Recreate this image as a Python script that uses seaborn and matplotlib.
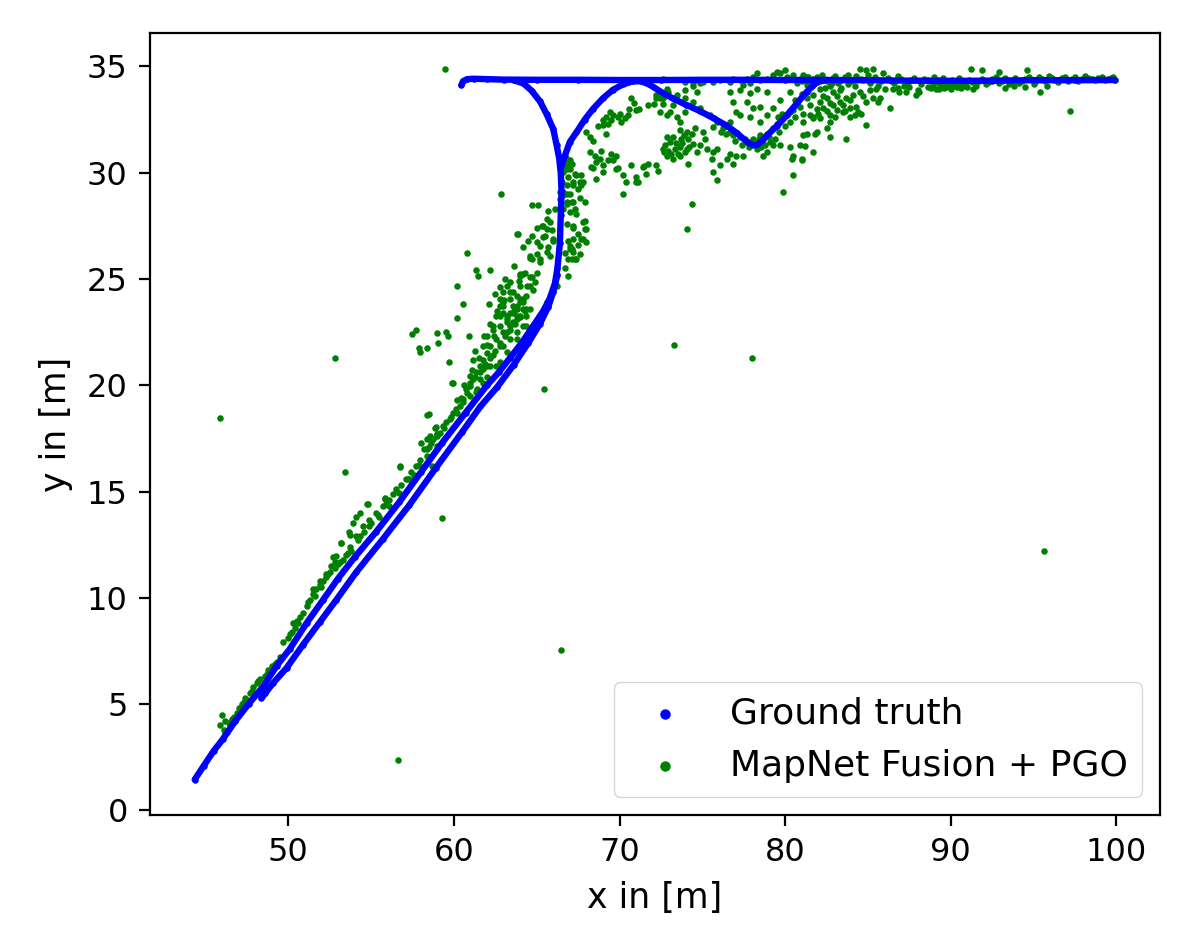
import matplotlib
matplotlib.use("Agg")
import matplotlib.pyplot as plt
import seaborn as sns
import pandas as pd

# ground truth trajectory (x, y in metres)
gt_diag_a = [[44.35, 1.45], [44.9, 2.1], [45.5, 2.8], [46.05, 3.35], [46.8, 4.2], [47.6, 5.0],
             [48.46, 5.8], [49.3, 6.8], [50.1, 7.6], [51.1, 8.8], [52.1, 9.9], [53.0, 10.9],
             [54.0, 11.9], [55.3, 13.1], [56.7, 14.5], [58.0, 15.9], [59.3, 17.3], [60.7, 18.7],
             [62.0, 20.0], [62.7, 20.6], [63.4, 21.3], [64.1, 22.0], [64.8, 22.8], [65.4, 23.5],
             [65.8, 24.1], [66.1, 24.8], [66.25, 25.5], [66.4, 26.7], [66.45, 28.0], [66.5, 29.1],
             [66.45, 30.0], [66.35, 30.7], [66.2, 31.3], [66.0, 32.05], [65.6, 32.75], [65.2, 33.35],
             [64.7, 33.85], [64.2, 34.2], [63.6, 34.35]]
gt_diag_b = [[48.38, 5.28], [48.6, 5.5], [49.1, 6.0], [49.9, 6.7], [50.9, 7.8], [51.9, 8.85],
             [52.9, 9.9], [54.1, 11.2], [55.7, 12.75], [57.3, 14.35], [58.9, 16.1], [60.5, 17.8],
             [61.6, 19.0], [62.6, 19.9], [63.6, 20.95], [64.5, 22.0], [65.2, 22.9], [65.7, 23.7],
             [66.0, 24.4], [66.25, 25.2]]
gt_top = [[60.45, 34.12], [60.55, 34.3], [60.8, 34.4], [61.2, 34.42], [62.0, 34.4], [63.0, 34.38],
          [65.0, 34.37], [67.5, 34.37], [70.0, 34.36], [72.5, 34.36], [75.0, 34.37], [77.5, 34.37],
          [80.0, 34.36], [82.5, 34.36], [85.0, 34.35], [87.5, 34.33], [90.0, 34.32], [92.5, 34.33],
          [95.0, 34.35], [97.5, 34.35], [99.9, 34.36]]
gt_loop = [[66.45, 30.2], [66.7, 30.8], [67.0, 31.45], [67.4, 31.9], [67.9, 32.5], [68.4, 33.0],
           [69.0, 33.5], [69.6, 33.9], [70.2, 34.15], [70.8, 34.3], [71.3, 34.3], [71.8, 34.15],
           [72.5, 33.8], [73.2, 33.5], [74.0, 33.2], [74.85, 32.9], [75.7, 32.55], [76.5, 32.2],
           [77.1, 31.85], [77.7, 31.45], [78.0, 31.3], [78.3, 31.3], [78.6, 31.5], [78.9, 31.75],
           [79.5, 32.2], [80.1, 32.7], [80.7, 33.25], [81.3, 33.8], [81.9, 34.25], [82.5, 34.37]]

# MapNet Fusion + PGO estimates
pred_diag = [[45.9, 4.0], [46.1, 3.8], [46.2, 4.2], [46.3, 3.7], [46.5, 3.9], [46.0, 4.5], [46.4, 4.1],
             [46.2, 3.6], [46.6, 4.3], [46.7, 4.4], [47.0, 4.8], [47.2, 5.0], [47.4, 5.3], [47.7, 5.5],
             [47.9, 5.8], [48.1, 6.0], [48.3, 6.2], [48.6, 6.3], [48.8, 6.6], [49.0, 6.8], [49.3, 7.0],
             [49.5, 7.2], [49.7, 7.9], [48.9, 6.5], [47.5, 5.2], [50.0, 8.1], [50.2, 8.4], [50.4, 8.6],
             [50.5, 8.9], [50.7, 9.1], [50.9, 9.3], [50.3, 8.8], [51.1, 9.6], [51.3, 9.9], [51.5, 10.2],
             [51.5, 10.4], [51.7, 10.4], [51.9, 10.6], [51.9, 10.8], [52.1, 10.8], [52.3, 11.0],
             [52.3, 11.1], [52.5, 11.2], [52.6, 11.5], [52.7, 11.9], [52.8, 11.4], [52.8, 11.7],
             [53.0, 11.6], [52.9, 11.95], [53.2, 12.6], [53.3, 11.8], [53.5, 12.0], [53.7, 12.4],
             [53.66, 13.1], [53.7, 12.97], [53.8, 12.2], [53.9, 13.5], [54.1, 12.9], [54.08, 13.8],
             [54.3, 12.9], [54.3, 14.0], [54.5, 13.36], [54.78, 14.43], [54.9, 13.4], [54.9, 13.68],
             [55.3, 14.0], [55.5, 13.8], [55.7, 14.3], [55.83, 14.65], [56.1, 14.3], [56.1, 14.6],
             [56.5, 15.1], [56.7, 14.95], [56.73, 16.15], [57.1, 15.57], [57.2, 15.6], [57.3, 15.57],
             [57.7, 16.2], [57.9, 16.27], [57.94, 16.5], [58.04, 17.3], [58.35, 16.67], [58.35, 16.98],
             [58.4, 17.45], [58.5, 17.1], [58.54, 17.6], [58.65, 16.2], [58.74, 17.45], [58.95, 17.14],
             [58.99, 17.69], [58.9, 18.05], [58.5, 18.63], [59.15, 17.77], [59.35, 18.1], [59.55, 18.25],
             [59.75, 18.4], [59.95, 18.7], [59.9, 20.1], [60.16, 18.7], [60.35, 19.0], [60.55, 19.2],
             [60.55, 19.34], [60.76, 19.65], [60.96, 19.5], [60.96, 19.97], [60.96, 20.44],
             [61.16, 20.28], [61.15, 21.2], [61.36, 19.67], [61.36, 20.6], [61.4, 19.8], [61.56, 20.28],
             [61.56, 20.9], [61.75, 20.1], [61.76, 20.75], [61.76, 21.2], [61.76, 21.85], [61.97, 20.4],
             [61.97, 20.9], [61.97, 21.5], [61.97, 22.3], [62.17, 20.9], [62.17, 21.85], [62.35, 22.6],
             [62.37, 21.4], [62.37, 22.8], [62.57, 20.9], [62.57, 22.17], [62.57, 23.27],
             [62.77, 21.07], [62.77, 21.85], [62.77, 23.27], [62.77, 23.74], [62.97, 21.85],
             [62.97, 22.5], [62.97, 23.4], [63.18, 21.55], [63.18, 22.5], [63.18, 22.96], [63.38, 22.17],
             [63.38, 22.8], [63.4, 23.4], [63.56, 22.96], [63.78, 22.17], [63.78, 22.5], [63.78, 23.1],
             [63.78, 23.58], [63.98, 23.27], [64.18, 22.8], [64.18, 23.58], [64.38, 22.8],
             [64.38, 23.27], [64.58, 22.64],
             [46.9, 4.6], [47.3, 5.1], [47.8, 5.6], [48.2, 6.1], [48.7, 6.4], [49.2, 6.9], [50.1, 8.3],
             [50.6, 8.8], [51.2, 9.8], [51.6, 10.1], [52.0, 10.5], [52.4, 11.1], [53.1, 11.7], [53.6, 12.1],
             [54.2, 12.7], [54.6, 13.1], [55.0, 13.5], [55.4, 13.9], [55.9, 14.4], [56.3, 14.9],
             [56.8, 15.3], [57.4, 15.9], [57.6, 15.8], [58.2, 17.0], [58.6, 17.3], [59.0, 17.6],
             [59.4, 18.0], [59.8, 18.5], [60.1, 18.9], [60.4, 19.4], [60.7, 19.8], [61.0, 20.1],
             [61.3, 20.4], [61.6, 20.6], [61.9, 21.0], [62.2, 21.3], [62.5, 21.6], [62.8, 22.0],
             [63.1, 22.3], [63.4, 22.6], [63.7, 22.9], [64.0, 23.2], [64.3, 23.5], [60.2, 19.3],
             [60.6, 20.0], [61.1, 20.7], [61.5, 21.3], [62.0, 21.9], [62.4, 22.3], [62.8, 22.8],
             [63.2, 23.1], [63.6, 23.5], [64.0, 23.9], [61.3, 21.6], [61.8, 22.3], [62.2, 22.9],
             [62.6, 23.5], [63.0, 24.0], [63.4, 24.4], [63.9, 24.9], [64.3, 25.3]]
pred_bend = [[62.77, 24.06], [62.77, 24.6], [62.97, 23.74], [62.97, 23.9], [62.97, 24.37], [63.18, 23.27],
             [63.18, 24.68], [63.38, 24.06], [63.38, 24.84], [63.56, 24.37], [63.58, 23.4], [63.58, 23.74],
             [63.78, 23.27], [63.78, 23.74], [63.78, 24.21], [63.98, 24.06], [63.98, 24.69],
             [63.98, 25.24], [64.0, 25.16], [64.18, 23.9], [64.18, 24.06], [64.2, 25.24], [64.38, 23.58],
             [64.38, 24.2], [64.4, 24.68], [64.58, 23.58], [64.58, 24.69], [64.58, 25.07], [64.58, 26.1],
             [64.6, 26.0], [64.7, 25.07], [64.7, 25.94], [64.78, 24.5], [64.9, 24.84], [64.99, 25.3],
             [64.99, 26.18], [65.19, 25.94], [65.2, 25.8], [65.19, 26.57], [65.6, 26.26], [65.59, 23.9],
             [65.79, 24.2], [66.2, 24.69], [65.69, 26.5], [65.79, 26.1], [64.7, 27.04], [64.99, 26.73],
             [65.4, 26.97], [66.0, 26.9], [66.0, 26.8], [65.49, 27.04], [64.99, 27.4], [65.29, 27.5],
             [65.39, 27.5], [65.6, 27.83], [65.6, 27.36], [65.8, 27.7], [65.9, 27.28], [63.8, 27.12],
             [62.1, 23.8], [62.5, 24.3], [63.1, 25.0], [63.6, 25.6], [64.2, 26.5], [64.5, 26.8]]
pred_vertical = [[66.7, 25.5], [66.9, 25.16], [67.1, 25.94], [67.4, 25.94], [66.88, 25.94], [67.31, 25.94],
                 [67.0, 26.4], [67.18, 26.26], [67.1, 26.4], [67.0, 26.57], [67.6, 26.18], [68.0, 26.73],
                 [67.7, 26.9], [67.2, 26.9], [67.8, 26.9], [67.2, 27.4], [66.8, 27.6], [67.2, 27.5],
                 [67.8, 27.67], [67.9, 27.36], [67.9, 27.75], [68.0, 27.36], [67.4, 28.07], [67.0, 28.14],
                 [66.6, 28.3], [66.8, 28.54], [67.2, 28.6], [66.8, 28.6], [67.9, 28.6], [67.1, 28.6],
                 [66.4, 28.77], [67.0, 29.0], [66.8, 29.0], [66.6, 28.93], [66.4, 29.1], [66.6, 29.1],
                 [67.5, 29.25], [67.2, 29.4], [66.8, 29.4], [67.6, 29.55], [67.7, 29.4], [66.5, 29.55],
                 [67.8, 29.55], [67.2, 29.55], [67.4, 29.87], [67.3, 29.95], [67.7, 29.87], [68.6, 29.7],
                 [66.6, 30.03], [67.0, 30.19], [66.8, 30.19], [68.4, 30.2], [66.6, 30.34], [66.8, 30.35],
                 [66.6, 30.58], [67.0, 30.58], [66.8, 30.66], [66.9, 26.8], [67.5, 27.1], [67.3, 28.3],
                 [67.6, 28.8], [66.9, 29.8], [67.1, 30.4], [66.7, 26.2], [67.5, 26.6]]
pred_loop = [[68.0, 31.92], [68.2, 31.7], [68.4, 31.5], [69.2, 31.84], [68.2, 30.97], [68.5, 30.8],
             [68.8, 30.66], [68.6, 30.5], [68.3, 30.27], [69.0, 30.34], [69.6, 30.58], [69.8, 30.19],
             [70.2, 29.87], [70.4, 29.55], [71.0, 29.55], [70.2, 29.0], [71.1, 29.55], [69.0, 30.05],
             [69.9, 30.2], [70.7, 30.35], [71.0, 29.8], [69.8, 30.8], [71.5, 30.3], [69.03, 32.25],
             [69.0, 32.46], [69.2, 32.62], [69.6, 32.7], [70.0, 32.78], [69.4, 32.86], [70.3, 32.55],
             [70.5, 32.7], [69.46, 32.5], [69.9, 32.6], [70.7, 33.5], [71.0, 32.94], [71.2, 33.0],
             [71.7, 33.18], [72.1, 33.25], [71.4, 30.27], [71.7, 30.42], [72.2, 30.34], [72.3, 30.1],
             [71.6, 29.95], [72.74, 31.3], [73.04, 31.44], [73.34, 31.13], [73.64, 31.2], [73.94, 30.97],
             [72.84, 30.8], [73.24, 30.66], [73.64, 30.8], [74.05, 31.13], [74.14, 31.6], [73.74, 31.6],
             [74.35, 31.84], [74.44, 31.37], [72.84, 31.68], [72.64, 31.13], [74.14, 30.42],
             [72.64, 33.5], [72.43, 33.5], [72.94, 33.8], [73.24, 33.18], [73.04, 32.86], [73.44, 32.62],
             [73.64, 32.38], [73.94, 32.86], [72.84, 33.96], [73.44, 33.65], [73.94, 33.88],
             [74.44, 34.1], [74.85, 34.2], [74.65, 33.8], [73.64, 32.0], [74.05, 31.92], [74.55, 32.08],
             [75.05, 31.92], [75.15, 31.6], [74.85, 31.29], [74.65, 30.97], [75.25, 31.13],
             [75.65, 30.97], [75.86, 31.13], [75.56, 30.66], [76.06, 30.34], [76.46, 30.66],
             [76.86, 30.42], [75.65, 30.03], [75.86, 29.64], [76.66, 30.9], [77.06, 30.8], [77.46, 30.8],
             [75.65, 32.15], [76.26, 32.08], [76.66, 31.92], [76.86, 31.76], [77.26, 31.68],
             [77.57, 31.6], [77.87, 31.44], [78.07, 31.6], [78.47, 31.76], [78.67, 31.6], [78.88, 31.84],
             [79.08, 31.44], [78.57, 31.2], [78.27, 31.13], [78.88, 30.97], [79.28, 31.29], [78.67, 30.8],
             [79.28, 32.08], [79.48, 32.31], [79.68, 32.47], [79.88, 32.55], [80.09, 32.7], [79.58, 32.62],
             [79.78, 32.78], [80.28, 32.86], [80.48, 32.94], [80.89, 33.1], [81.08, 32.78], [81.49, 32.7],
             [81.69, 32.55], [81.99, 32.78], [79.68, 31.29], [80.28, 31.2], [80.89, 31.29],
             [81.29, 31.84], [81.08, 31.76], [80.48, 30.8], [80.39, 30.66], [80.45, 29.9], [80.99, 30.66],
             [81.69, 30.97], [72.84, 32.7], [72.43, 32.86], [72.23, 33.5], [72.64, 33.25], [72.23, 33.65],
             [73.94, 33.5], [74.44, 33.33], [74.85, 33.02], [75.45, 32.7], [75.86, 32.38], [78.27, 33.96],
             [78.88, 33.8], [77.87, 33.73], [77.26, 33.88], [76.66, 33.8], [76.86, 33.33], [77.67, 33.33],
             [78.07, 33.02], [78.47, 33.1], [77.26, 32.7], [77.87, 32.62], [78.47, 32.38], [78.88, 32.7],
             [79.28, 33.02], [77.06, 32.86], [76.66, 32.38], [80.28, 33.8], [79.68, 33.4], [81.29, 34.12],
             [72.9, 31.0], [73.1, 30.9], [73.4, 31.4], [73.5, 30.9], [73.8, 31.4], [73.2, 31.7],
             [72.7, 30.95], [73.9, 31.75], [74.2, 31.2], [76.1, 31.9], [76.4, 31.8], [77.0, 31.5],
             [77.4, 31.3], [77.8, 31.2], [78.2, 31.4], [78.4, 31.6], [78.8, 31.3], [79.0, 31.7],
             [79.4, 31.6], [79.6, 31.9], [80.0, 32.2], [80.3, 32.4], [80.6, 32.6], [68.9, 31.0],
             [69.3, 30.6], [69.5, 30.9], [68.7, 32.2], [69.3, 32.3], [70.1, 32.4], [70.6, 33.0],
             [70.9, 33.3]]
pred_right = [[81.29, 33.5], [81.69, 33.65], [82.1, 33.33], [82.5, 33.5], [82.9, 33.18], [83.3, 33.33],
              [83.7, 33.5], [84.1, 33.65], [84.5, 33.8], [84.9, 33.33], [83.9, 33.02], [83.5, 32.86],
              [83.1, 32.94], [82.7, 32.7], [82.3, 33.02], [83.9, 32.62], [82.1, 32.55], [81.69, 32.62],
              [82.9, 33.8], [83.3, 33.88], [82.1, 33.96], [85.5, 33.96], [85.7, 33.5], [84.6, 32.78],
              [84.4, 32.86], [84.9, 32.23], [81.08, 32.38], [82.7, 32.38], [82.5, 32.08], [81.9, 31.92],
              [81.8, 31.84], [82.7, 31.68], [83.7, 31.6], [81.2, 31.25], [86.35, 33.02], [85.6, 33.33],
              [86.5, 33.96], [86.9, 33.8], [87.3, 33.8], [87.9, 33.65], [88.1, 33.8], [88.9, 34.12],
              [89.3, 33.96], [89.7, 34.04], [90.1, 34.12], [90.5, 34.2], [90.96, 34.04], [91.35, 33.96],
              [95.4, 33.8], [80.6, 33.4], [81.0, 33.7], [81.5, 33.2], [81.9, 33.0], [82.3, 33.6],
              [82.7, 33.3], [83.1, 33.6], [83.5, 33.2], [83.9, 33.4], [84.3, 33.1], [84.7, 33.6],
              [85.1, 33.9], [85.3, 33.5], [82.5, 32.9], [83.0, 32.6], [83.6, 32.9], [84.2, 32.7]]
pred_top = [[72.64, 34.43], [73.94, 34.28], [74.44, 34.2], [75.05, 34.28], [75.65, 34.28], [76.06, 34.35],
            [76.66, 34.28], [76.86, 34.43], [77.26, 34.35], [77.67, 34.43], [78.07, 34.5], [78.47, 34.35],
            [78.88, 34.43], [79.28, 34.59], [79.68, 34.67], [80.09, 34.5], [80.48, 34.59], [80.89, 34.43],
            [81.29, 34.5], [81.69, 34.43], [77.87, 34.2], [77.46, 34.12], [78.27, 34.67], [79.98, 34.82],
            [79.48, 34.75], [81.0, 34.3], [81.4, 34.5], [81.8, 34.2], [82.2, 34.6], [82.5, 34.3],
            [82.9, 34.45], [83.2, 34.2], [83.6, 34.5], [84.0, 34.3], [84.3, 34.55], [84.7, 34.35],
            [85.1, 34.2], [85.4, 34.5], [85.8, 34.3], [86.2, 34.45], [86.6, 34.2], [87.0, 34.4],
            [87.4, 34.25], [87.8, 34.45], [88.2, 34.15], [88.6, 34.35], [89.0, 34.5], [89.3, 34.2],
            [89.6, 34.0], [89.9, 34.3], [90.2, 34.1], [90.5, 34.45], [90.8, 34.2], [91.1, 34.35],
            [91.5, 34.1], [91.9, 34.4], [92.3, 34.25], [92.7, 34.5], [93.1, 34.3], [93.5, 34.15],
            [93.9, 34.45], [94.3, 34.3], [94.7, 34.5], [95.1, 34.25], [95.5, 34.4], [95.9, 34.55],
            [96.3, 34.35], [96.7, 34.45], [97.1, 34.3], [97.5, 34.5], [97.9, 34.4], [98.3, 34.45],
            [98.7, 34.35], [99.1, 34.5], [99.5, 34.4], [99.8, 34.5], [99.9, 34.35], [88.8, 34.0],
            [89.1, 33.95], [89.4, 34.1], [89.7, 34.25], [90.0, 33.95], [90.3, 34.2], [90.6, 34.0],
            [89.2, 34.35], [88.9, 34.2], [90.9, 34.1], [93.3, 34.0], [93.8, 34.1], [94.5, 34.05],
            [95.0, 34.15], [95.8, 34.1], [81.2, 34.4], [81.6, 34.1], [82.0, 34.45], [82.4, 34.0],
            [82.8, 34.2], [83.4, 34.0], [83.8, 34.15], [86.0, 33.95], [86.8, 34.0], [87.5, 34.05],
            [88.0, 33.9], [84.5, 34.88], [84.9, 34.82], [85.3, 34.88], [85.9, 34.67], [91.2, 34.88],
            [91.86, 34.82], [92.9, 34.75], [94.6, 34.82],
            [80.7, 34.2], [81.1, 34.6], [81.5, 34.3], [81.9, 34.5], [82.3, 34.35], [82.7, 34.1],
            [83.0, 34.55], [83.4, 34.35], [83.8, 34.6], [84.2, 34.1], [84.6, 34.4], [85.0, 34.6],
            [85.6, 34.1], [86.4, 34.3], [86.8, 34.55], [87.2, 34.1], [87.6, 34.35], [88.4, 34.4],
            [88.6, 34.05], [89.1, 34.3], [89.5, 34.45], [89.8, 34.1], [90.1, 34.35], [90.4, 34.05],
            [90.7, 34.3], [91.3, 34.25], [91.7, 34.3], [92.1, 34.15], [92.5, 34.4], [92.9, 34.2],
            [93.3, 34.45], [93.7, 34.3], [94.1, 34.2], [94.5, 34.4], [94.9, 34.35], [95.3, 34.5],
            [95.7, 34.3], [96.1, 34.45], [96.5, 34.25], [96.9, 34.5], [97.3, 34.4], [97.7, 34.3],
            [98.1, 34.55], [98.5, 34.4], [98.9, 34.45], [99.3, 34.35], [99.7, 34.45]]
pred_stray = [[59.45, 34.86], [62.87, 29.0], [60.76, 26.2], [52.85, 21.3], [45.9, 18.48], [53.45, 15.9],
              [59.3, 13.76], [65.43, 19.8], [56.63, 2.36], [66.46, 7.52], [95.6, 12.2], [78.0, 21.3],
              [73.3, 21.9], [74.35, 28.54], [74.1, 27.36], [97.2, 32.9], [80.99, 30.6], [79.88, 29.1],
              [57.44, 22.4], [57.74, 22.6], [57.94, 21.57], [57.9, 21.76], [58.35, 21.75], [58.95, 22.45],
              [59.51, 22.52], [59.63, 22.3], [59.05, 22.01], [59.69, 21.09], [59.95, 20.1], [60.9, 22.3],
              [60.16, 24.65], [60.56, 23.82], [60.16, 23.15], [61.36, 25.4], [61.45, 25.15], [62.17, 25.4],
              [63.86, 27.1], [64.69, 28.46], [65.07, 28.46], [65.67, 28.2], [66.1, 28.3], [58.35, 18.6],
              [58.85, 18.0], [58.95, 17.7], [54.8, 14.4], [55.83, 14.7], [56.73, 16.2], [53.2, 12.58]]

gt_segments = {"diag_a": gt_diag_a, "diag_b": gt_diag_b, "top": gt_top, "loop": gt_loop}
gt = pd.concat([pd.DataFrame(seg, columns=["x", "y"]).assign(segment=name)
                for name, seg in gt_segments.items()], ignore_index=True)
pred = pd.DataFrame(pred_diag + pred_bend + pred_vertical + pred_loop + pred_right + pred_top + pred_stray,
                    columns=["x", "y"])

sns.set_style("ticks", {"axes.edgecolor": "black", "xtick.color": "black", "ytick.color": "black",
                        "text.color": "black", "axes.labelcolor": "black"})
plt.rcParams["font.family"] = ["DejaVu Sans"]

fig = plt.figure(figsize=(11.96, 9.52), dpi=100)
ax = fig.add_axes([0.1254, 0.1439, 0.8445, 0.8214])

sns.lineplot(data=gt, x="x", y="y", units="segment", estimator=None, sort=False, color="blue",
             lw=4.6, solid_capstyle="round", legend=False, ax=ax)
sns.scatterplot(data=gt, x="x", y="y", color="blue", s=22, linewidth=0, label="Ground truth", ax=ax)
sns.scatterplot(data=pred, x="x", y="y", color="green", s=22, linewidth=0, label="MapNet Fusion + PGO", ax=ax)

ax.set_xlim(41.65, 102.63)
ax.set_ylim(-0.22, 36.57)
ax.set_xticks([50, 60, 70, 80, 90, 100])
ax.set_yticks([0, 5, 10, 15, 20, 25, 30, 35])
ax.tick_params(labelsize=23, length=8, width=1.6, pad=8)
for s in ax.spines.values():
    s.set_linewidth(1.6)
ax.set_xlabel("x in [m]", fontsize=25, labelpad=9)
ax.set_ylabel("y in [m]", fontsize=25, labelpad=10)
ax.legend(loc="lower right", fontsize=26, markerscale=1.6, frameon=True)

fig.savefig("out.png", dpi=100)
